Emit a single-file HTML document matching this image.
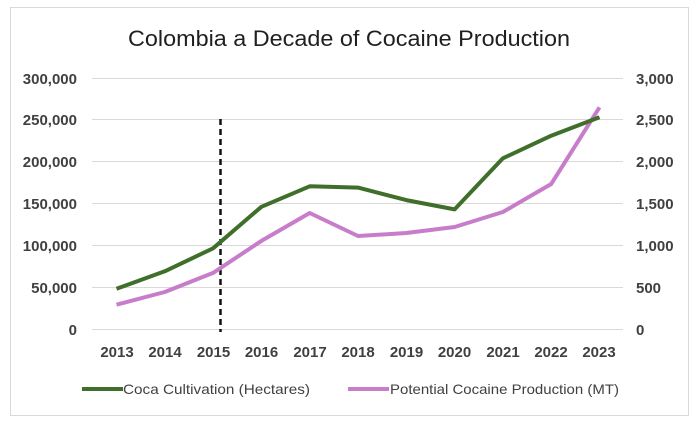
<!DOCTYPE html>
<html>
<head>
<meta charset="utf-8">
<style>
  html, body { margin: 0; padding: 0; background: #ffffff; }
  svg { display: block; }
</style>
</head>
<body>
<svg width="700" height="431" viewBox="0 0 700 431" xmlns="http://www.w3.org/2000/svg">
  <rect x="0" y="0" width="700" height="431" fill="#ffffff"/>
  <rect x="10.5" y="7.5" width="678" height="408" fill="#ffffff" stroke="#d9d9d9" stroke-width="1"/>

  <!-- Title -->
  <text x="128" y="46" font-family="Liberation Sans, sans-serif" font-size="22" fill="#1f1f1f" textLength="442" lengthAdjust="spacingAndGlyphs">Colombia a Decade of Cocaine Production</text>

  <!-- Gridlines -->
  <g stroke="#d9d9d9" stroke-width="1">
    <line x1="92" y1="78.5" x2="623" y2="78.5"/>
    <line x1="92" y1="119.5" x2="623" y2="119.5"/>
    <line x1="92" y1="161.5" x2="623" y2="161.5"/>
    <line x1="92" y1="203.5" x2="623" y2="203.5"/>
    <line x1="92" y1="245.5" x2="623" y2="245.5"/>
    <line x1="92" y1="287.5" x2="623" y2="287.5"/>
    <line x1="92" y1="329.5" x2="623" y2="329.5"/>
  </g>

  <!-- Left axis labels -->
  <g font-family="Liberation Sans, sans-serif" font-size="15" font-weight="bold" fill="#404040" text-anchor="end">
    <text x="77" y="84">300,000</text>
    <text x="77" y="125">250,000</text>
    <text x="77" y="167">200,000</text>
    <text x="77" y="209">150,000</text>
    <text x="77" y="251">100,000</text>
    <text x="77" y="293">50,000</text>
    <text x="77" y="335">0</text>
  </g>

  <!-- Right axis labels -->
  <g font-family="Liberation Sans, sans-serif" font-size="15" font-weight="bold" fill="#404040" text-anchor="start">
    <text x="636" y="84">3,000</text>
    <text x="636" y="125">2,500</text>
    <text x="636" y="167">2,000</text>
    <text x="636" y="209">1,500</text>
    <text x="636" y="251">1,000</text>
    <text x="636" y="293">500</text>
    <text x="636" y="335">0</text>
  </g>

  <!-- X axis labels -->
  <g font-family="Liberation Sans, sans-serif" font-size="15" font-weight="bold" fill="#404040" text-anchor="middle">
    <text x="117" y="357">2013</text>
    <text x="165" y="357">2014</text>
    <text x="213.5" y="357">2015</text>
    <text x="261.5" y="357">2016</text>
    <text x="310" y="357">2017</text>
    <text x="358" y="357">2018</text>
    <text x="406.5" y="357">2019</text>
    <text x="454.5" y="357">2020</text>
    <text x="503" y="357">2021</text>
    <text x="551" y="357">2022</text>
    <text x="599" y="357">2023</text>
  </g>

  <!-- Dashed vertical line -->
  <line x1="220.5" y1="119" x2="220.5" y2="332" stroke="#111111" stroke-width="2.5" stroke-dasharray="6,4"/>

  <!-- Purple series -->
  <polyline fill="none" stroke="#c77dc9" stroke-width="4" stroke-linejoin="round" stroke-linecap="butt"
    points="116.5,304.7 164.8,292.0 213.1,272.9 261.4,240.9 309.7,213.0 358,236.0 406.3,233.0 454.6,227.0 502.9,212.0 551.2,184.0 599.5,107.3"/>

  <!-- Green series -->
  <polyline fill="none" stroke="#3f6f2a" stroke-width="4" stroke-linejoin="round" stroke-linecap="butt"
    points="116.5,288.8 164.8,271.3 213.1,248.3 261.4,206.8 309.7,186.3 358,187.6 406.3,200.1 454.6,209.4 502.9,158.3 551.2,135.7 599.5,117.3"/>

  <!-- Legend -->
  <line x1="82" y1="389" x2="123" y2="389" stroke="#3f6f2a" stroke-width="4"/>
  <text x="123" y="394" font-family="Liberation Sans, sans-serif" font-size="14" fill="#404040" textLength="187" lengthAdjust="spacingAndGlyphs">Coca Cultivation (Hectares)</text>
  <line x1="348" y1="389" x2="389" y2="389" stroke="#c77dc9" stroke-width="4"/>
  <text x="390" y="394" font-family="Liberation Sans, sans-serif" font-size="14" fill="#404040" textLength="229" lengthAdjust="spacingAndGlyphs">Potential Cocaine Production (MT)</text>
</svg>
</body>
</html>
